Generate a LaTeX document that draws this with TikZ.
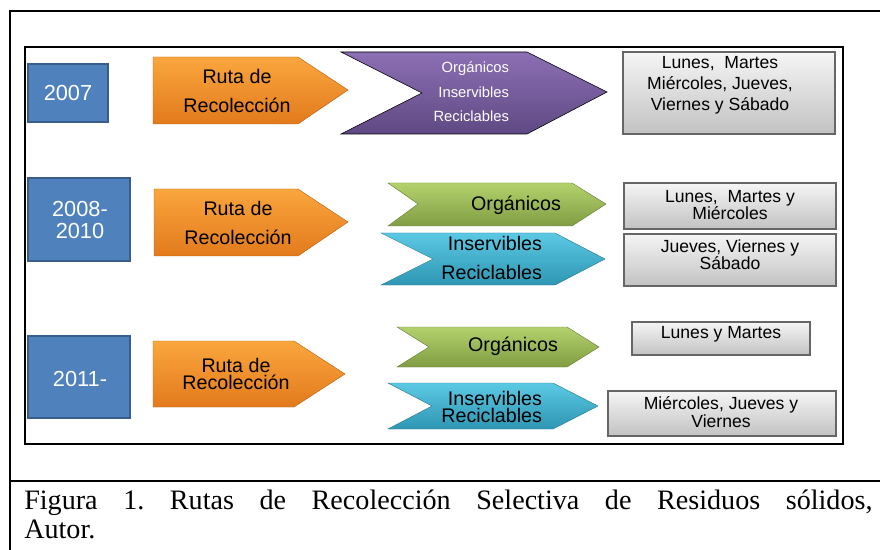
\documentclass[tikz,border=0pt]{standalone}
\usepackage{fontspec}
\setmainfont{Liberation Serif}
\newfontfamily\arial{Liberation Sans}
\usepackage{tikz}
\definecolor{azulano}{HTML}{4F81BD}
\definecolor{bordeano}{HTML}{385D8A}
\definecolor{naranjaA}{HTML}{FAA63E}
\definecolor{naranjaB}{HTML}{E27A1C}
\definecolor{moradoA}{HTML}{8C6FB4}
\definecolor{moradoB}{HTML}{5F4983}
\definecolor{verdeA}{HTML}{B3D26C}
\definecolor{verdeB}{HTML}{809D43}
\definecolor{cianA}{HTML}{5CC9E4}
\definecolor{cianB}{HTML}{2E96B3}
\definecolor{grisA}{HTML}{F5F5F5}
\definecolor{grisB}{HTML}{C2C2C2}
\tikzset{
    ano/.style={fill=azulano, draw=bordeano, line width=1.2pt},
    ruta/.style={top color=naranjaA, bottom color=naranjaB, draw=naranjaB!80!black, line width=.3pt},
    todos/.style={top color=moradoA, bottom color=moradoB},
    organico/.style={top color=verdeA, bottom color=verdeB, draw=verdeB!80!black, line width=.3pt},
    reciclable/.style={top color=cianA, bottom color=cianB, draw=cianB!80!black, line width=.3pt},
    dias/.style={top color=grisA, bottom color=grisB, draw=black!60, line width=1pt},
    txtano/.style={font=\arial\fontsize{15.5}{16.3}\selectfont, text=white, align=center},
    txtruta/.style={font=\arial\fontsize{14}{20.5}\selectfont, align=center},
    txtdias/.style={font=\arial\fontsize{12.5}{12.3}\selectfont, align=center}
}

\begin{document}
\begin{tikzpicture}[x=0.025cm, y=-0.025cm]
    \useasboundingbox (0, 0) rectangle (880, 550);
    % marco de la tabla
    \draw[line width=1.4pt](880, 11)--(10, 11)--(10, 550);
    \draw[line width=1.4pt](10, 481)--(880, 481);
    \draw[line width=1.4pt](25, 47)rectangle(843, 444);

    % 2007
    \draw[ano](28, 64)rectangle(108, 122);
    \node[txtano] (a2007) at (68, 93) {2007};
    \draw[ruta](153, 57)--(298, 57)--(348, 90)--(298, 124)--(153, 124)--cycle;
    \node[txtruta] (r2007) at (237, 91) {Ruta de\\Recolección};
    \draw[todos](341, 52)--(527, 52)--(607, 92)--(527, 134)--(341, 134)--(422, 93)--cycle;
    \node[font=\arial\fontsize{10.5}{17.4}\selectfont, text=white, align=right, anchor=east] (t2007) at (514, 92) {Orgánicos\\Inservibles\\Reciclables};
    \draw[dias](623, 52)rectangle(835, 134);
    \node[txtdias, font=\arial\fontsize{12.5}{14.9}\selectfont] (d2007) at (720, 85) {Lunes,\ \ Martes\\Miércoles, Jueves,\\Viernes y Sábado};

    % 2008-2010
    \draw[ano](28, 178)rectangle(130, 261);
    \node[txtano] (a2008) at (80, 220) {2008-\\2010};
    \draw[ruta](154, 189)--(298, 189)--(348, 222)--(298, 256)--(154, 256)--cycle;
    \node[txtruta] (r2008) at (238, 223) {Ruta de\\Recolección};
    \draw[organico](388, 183)--(572, 183)--(606, 204)--(572, 226)--(388, 226)--(418, 204)--cycle;
    \node[txtruta] (o2008) at (516, 205) {Orgánicos};
    \draw[reciclable](381, 233)--(555, 233)--(605, 259)--(555, 285)--(381, 285)--(433, 259)--cycle;
    \node[txtruta, font=\arial\fontsize{14}{20}\selectfont, align=right, anchor=east] (i2008) at (547, 258) {Inservibles\\Reciclables};
    \draw[dias](624, 183)rectangle(836, 229);
    \node[txtdias] (d2008a) at (730, 205) {Lunes,\ \ Martes y\\Miércoles};
    \draw[dias](624, 234)rectangle(836, 286);
    \node[txtdias] (d2008b) at (730, 255) {Jueves,\ Viernes y\\Sábado};

    % 2011-
    \draw[ano](28, 336)rectangle(130, 418);
    \node[txtano] (a2011) at (80, 379) {2011-};
    \draw[ruta](153, 341)--(294, 341)--(345, 374)--(294, 407)--(153, 407)--cycle;
    \node[txtruta, font=\arial\fontsize{14}{12.5}\selectfont] (r2011) at (236, 374) {Ruta de\\Recolección};
    \draw[organico](397, 327)--(567, 327)--(599, 347)--(567, 367)--(397, 367)--(429, 347)--cycle;
    \node[txtruta] (o2011) at (513, 346) {Orgánicos};
    \draw[reciclable](388, 383)--(553, 383)--(598, 406)--(553, 429)--(388, 429)--(432, 406)--cycle;
    \node[txtruta, font=\arial\fontsize{14}{12.5}\selectfont, align=right, anchor=east] (i2011) at (547, 407) {Inservibles\\Reciclables};
    \draw[dias](632, 322)rectangle(810, 355);
    \node[txtdias] (d2011a) at (721, 334) {Lunes y Martes};
    \draw[dias](608, 391)rectangle(836, 436);
    \node[txtdias] (d2011b) at (721, 412) {Miércoles, Jueves y\\Viernes};

    % pie de figura
    \node[anchor=north west, inner sep=0, text width=21.2cm, align=justify, font=\fontsize{20}{20.5}\selectfont\frenchspacing] (pie) at (24, 489.5)
        {Figura 1. Rutas de Recolección Selectiva de Residuos sólidos,\linebreak Autor.};
\end{tikzpicture}
\end{document}
